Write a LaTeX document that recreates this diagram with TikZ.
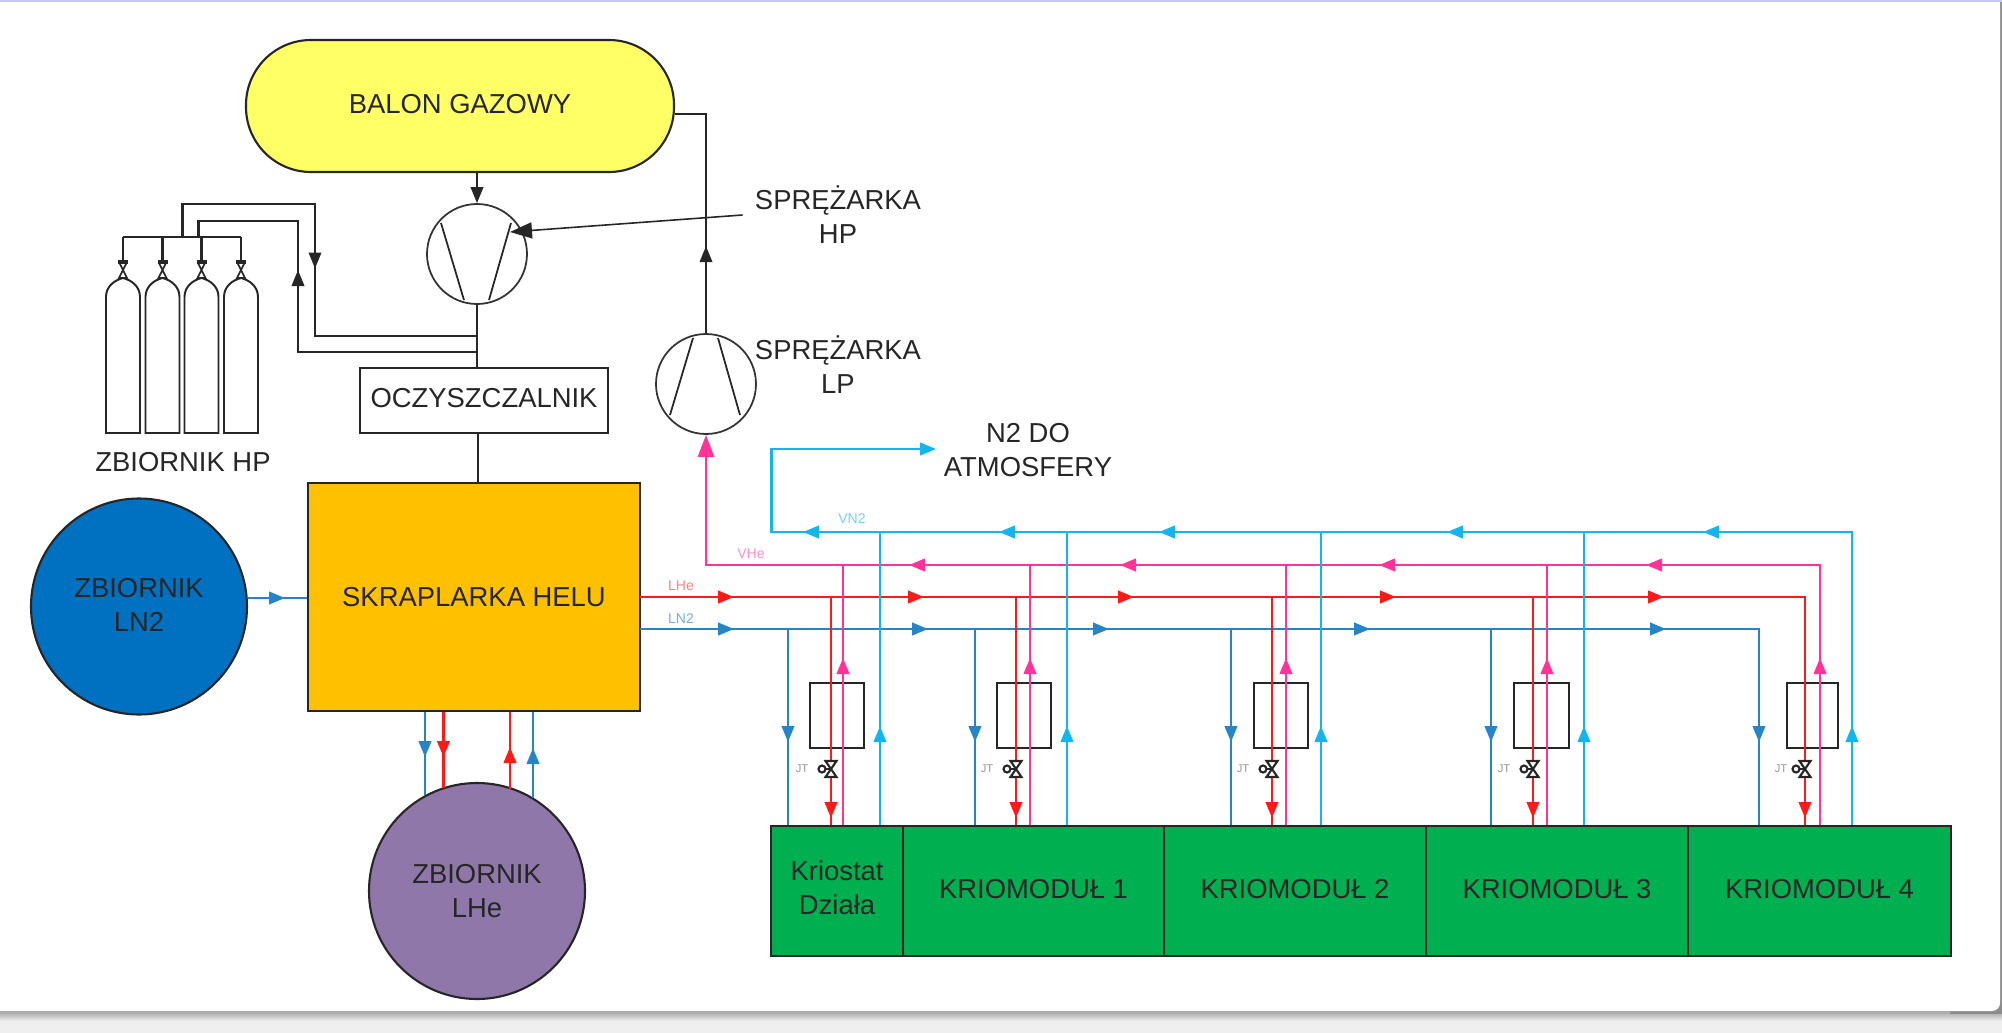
\documentclass[tikz,border=0pt]{standalone}
\usepackage{fontspec}
\setmainfont{Liberation Sans}
\usetikzlibrary{arrows.meta,calc,decorations.markings}
\definecolor{colYellow}{HTML}{FFFF66}
\definecolor{colOrange}{HTML}{FFC000}
\definecolor{colBlue}{HTML}{0070C0}
\definecolor{colPurple}{HTML}{8F77A9}
\definecolor{colGreen}{HTML}{00B050}
\definecolor{colPink}{HTML}{FF3399}
\definecolor{colCyan}{HTML}{12B5EE}
\definecolor{colRed}{HTML}{FF1A1A}
\definecolor{colPage}{HTML}{EFEFEF}
\definecolor{colLine}{HTML}{C8C8E8}
\tikzset{
  >={Triangle[length=1.6mm,width=1.25mm]},
  every node/.style={font=\fontsize{7.8}{9.65}\selectfont, text=black!85},
  unit/.style={draw=black!85, line width=0.6pt, align=center, inner sep=0pt},
  tank/.style={unit, circle, minimum size=2.16cm},
  compressor/.style={draw=black!80, circle, line width=0.5pt, minimum size=1.0cm, inner sep=0pt},
  module/.style={unit, fill=colGreen, minimum height=1.30cm, anchor=north west, text depth=0.05cm},
  exchanger/.style={draw=black!85, line width=0.6pt, minimum height=0.65cm, anchor=north west, inner sep=0pt},
  pipe/.style={draw=black!85, line width=0.6pt},
  ln2/.style={draw=colBlue!85!white, line width=0.7pt},
  lhe/.style={draw=colRed, line width=0.7pt},
  vhe/.style={draw=colPink, line width=0.7pt},
  vn2/.style={draw=colCyan, line width=0.7pt},
  flowmark/.style={postaction={decorate,decoration={markings,mark=at position #1 with {\arrow{>}}}}},
  bigtip/.style={-{Triangle[length=2.2mm,width=1.6mm]}},
  tinylabel/.style={font=\fontsize{4}{4}\selectfont},
  jtlabel/.style={font=\fontsize{3.2}{3.2}\selectfont, text=black!40},
}
\begin{document}
\begin{tikzpicture}[x=1cm,y=-1cm]
  \useasboundingbox (0,0) rectangle (20.02,10.33);
  % page behind the drawing
  \fill[colPage] (0,0) rectangle (20.02,10.33);
  \shade[top color=black!55, bottom color=colPage] (0,10.05) rectangle (20.02,10.21);
  \fill[black!45] (19.5,0) rectangle (20.02,10.14);
  \fill[white, rounded corners=0.08cm] (-1,-1) rectangle (20.00,10.11);
  \fill[colLine] (0,0) rectangle (20.02,0.015);

  % units
  \node[unit, fill=colYellow, rounded corners=0.65cm, minimum width=4.28cm, minimum height=1.32cm, text depth=0.05cm] (balon) at (4.60,1.06) {BALON GAZOWY};
  \node[compressor] (comphp) at (4.77,2.54) {};
  \node[compressor] (complp) at (7.06,3.84) {};
  \node[unit, minimum width=2.48cm, minimum height=0.65cm, text depth=0.05cm] (oczysz) at (4.84,4.005) {OCZYSZCZALNIK};
  \node[unit, fill=colOrange, minimum width=3.32cm, minimum height=2.28cm] (skrap) at (4.74,5.97) {SKRAPLARKA HELU};
  \node[tank, fill=colBlue, text depth=0.04cm] (tanklnn) at (1.39,6.065) {ZBIORNIK\\LN2};
  \node[tank, fill=colPurple] (tanklhe) at (4.77,8.91) {ZBIORNIK\\LHe};
  \node (zbhp) at (1.83,4.62) {ZBIORNIK HP};
  \node[align=center] (sphp) at (8.38,2.15) {SPRĘŻARKA\\HP};
  \node[align=center] (splp) at (8.38,3.645) {SPRĘŻARKA\\LP};
  \node[align=center] (atmos) at (10.28,4.50) {N2 DO\\ATMOSFERY};

  % modules
  \node[module, minimum width=1.32cm, text depth=0.07cm] (kriostat) at (7.70,8.25) {Kriostat\\Działa};
  \node[module, minimum width=2.61cm] (mod1) at (9.02,8.25) {KRIOMODUŁ 1};
  \node[module, minimum width=2.62cm] (mod2) at (11.63,8.25) {KRIOMODUŁ 2};
  \node[module, minimum width=2.62cm] (mod3) at (14.25,8.25) {KRIOMODUŁ 3};
  \node[module, minimum width=2.63cm] (mod4) at (16.87,8.25) {KRIOMODUŁ 4};

  % heat exchangers
  \node[exchanger, minimum width=0.54cm] (hxa) at (8.09,6.82) {};
  \node[exchanger, minimum width=0.54cm] (hxb) at (9.96,6.82) {};
  \node[exchanger, minimum width=0.54cm] (hxc) at (12.53,6.82) {};
  \node[exchanger, minimum width=0.55cm] (hxd) at (15.13,6.82) {};
  \node[exchanger, minimum width=0.51cm] (hxe) at (17.86,6.82) {};

  % compressor blades
  \foreach \c/\s in {comphp/1,complp/-1} {
    \draw[pipe, line width=0.5pt] ($(\c.center)+(-0.36,-0.31*\s)$) -- ($(\c.center)+(-0.13,0.46*\s)$);
    \draw[pipe, line width=0.5pt] ($(\c.center)+(0.34,-0.31*\s)$) -- ($(\c.center)+(0.12,0.46*\s)$);
  }

  % helium circuit
  \draw[pipe, ->] (balon.south -| comphp) -- (comphp.north);
  \coordinate (hpin) at ($(comphp.center)+(0.33,-0.22)$);
  \draw[pipe, line width=0.45pt, bigtip] (sphp.west) -- (hpin);
  \coordinate (balr) at (7.06,1.14);
  \draw[pipe, flowmark=0.87cm] (complp.north) -- (balr) -- (balon.east |- balr);
  \draw[pipe] (comphp.south) -- (comphp.south |- oczysz.north);
  \draw[pipe] (oczysz.south -| skrap.north) ++(0.04,0) -- ($(skrap.north)+(0.04,0)$);

  % bottles
  \coordinate (rail) at (1.23,2.37);
  \draw[pipe] (rail) -- (2.41,2.37);
  \foreach \x in {1.23,1.625,2.015,2.41} {
    \draw[pipe] (\x,2.37) -- (\x,2.62);
    \draw[pipe, line width=0.9pt] ($(\x,2.62)+(-0.05,0)$) -- ($(\x,2.62)+(0.05,0)$);
    \draw[pipe, line width=0.5pt] ($(\x,2.62)+(-0.04,0)$) -- ($(\x,2.78)+(0.04,0)$) -- ($(\x,2.78)+(-0.04,0)$) -- ($(\x,2.62)+(0.04,0)$);
    \draw[pipe, line width=0.55pt] ($(\x,4.33)+(-0.17,0)$) -- ($(\x,2.97)+(-0.17,0)$)
      .. controls ($(\x,2.86)+(-0.17,0)$) and ($(\x,2.80)+(-0.08,0)$) .. (\x,2.78)
      .. controls ($(\x,2.80)+(0.08,0)$) and ($(\x,2.86)+(0.17,0)$) .. ($(\x,2.97)+(0.17,0)$)
      -- ($(\x,4.33)+(0.17,0)$) -- cycle;
  }
  \coordinate (forka) at (4.76,3.36);
  \coordinate (forkb) at (4.76,3.52);
  \draw[pipe, flowmark=2.30cm] (1.825,2.37) -- (1.825,2.04) -- (3.15,2.04) -- (3.15,3.36) -- (forka);
  \draw[pipe, flowmark=2.60cm] (forkb) -- (2.98,3.52) -- (2.98,2.21) -- (1.985,2.21) -- (1.985,2.37);

  % feed to the cold box
  \coordinate (lnfeed) at (tanklnn.east |- 0,5.98);
  \draw[ln2, flowmark=0.37cm] (lnfeed) -- (skrap.west |- lnfeed);
  \draw[ln2, flowmark=0.45cm] (skrap.south -| 4.25,0) -- (4.25,7.95);
  \draw[lhe, flowmark=0.45cm] (skrap.south -| 4.435,0) -- (4.435,7.88);
  \draw[lhe, flowmark=0.42cm] (5.10,7.89) -- (skrap.south -| 5.10,0);
  \draw[ln2, flowmark=0.50cm] (5.33,7.98) -- (skrap.south -| 5.33,0);

  % trunk lines
  \coordinate (vnmain) at (7.715,5.32);
  \coordinate (vhmain) at (7.06,5.65);
  \coordinate (lhmain) at (6.40,5.97);
  \coordinate (lnmain) at (6.40,6.29);
  \draw[vn2, ->, flowmark=0.99cm, flowmark=4.42cm, flowmark=6.98cm, flowmark=9.86cm, flowmark=11.46cm, flowmark=13.42cm] (mod4.north -| 18.52,0) -- (18.52,5.32) -- (vnmain) -- (7.715,4.49) -- (9.36,4.49);
  \draw[vhe, flowmark=1.67cm, flowmark=4.34cm, flowmark=7.01cm, flowmark=9.60cm, flowmark=11.71cm] (mod4.north -| 18.20,0) -- (18.20,5.65) -- (vhmain) -- (7.06,4.60);
  \draw[vhe, bigtip] (7.06,4.60) -- (complp.south);
  \draw[lhe, flowmark=0.94cm, flowmark=2.84cm, flowmark=4.94cm, flowmark=7.56cm, flowmark=10.24cm, flowmark=13.86cm] (lhmain) -- (18.05,5.97) -- (mod4.north -| 18.05,0);
  \draw[ln2, flowmark=0.94cm, flowmark=2.88cm, flowmark=4.69cm, flowmark=7.30cm, flowmark=10.26cm, flowmark=12.32cm] (lnmain) -- (17.59,6.29) -- (mod4.north -| 17.59,0);

  % branches into the modules
  \foreach \x/\m in {7.88/kriostat,9.75/mod1,12.31/mod2,14.91/mod3} {
    \draw[ln2, flowmark=1.13cm] (\x,6.29) -- (\m.north -| \x,0);
  }
  \foreach \x/\m in {8.31/kriostat,10.16/mod1,12.72/mod2,15.33/mod3} {
    \draw[lhe, flowmark=2.21cm] (\x,5.97) -- (\m.north -| \x,0);
  }
  \foreach \x/\m in {8.43/kriostat,10.30/mod1,12.86/mod2,15.47/mod3} {
    \draw[vhe, flowmark=1.67cm] (\m.north -| \x,0) -- (\x,5.65);
  }
  \foreach \x/\m in {8.80/kriostat,10.67/mod1,13.21/mod2,15.84/mod3} {
    \draw[vn2, flowmark=0.99cm] (\m.north -| \x,0) -- (\x,5.32);
  }

  % expansion valves
  \foreach \x/\l in {8.31/-0.29,10.16/-0.29,12.72/-0.29,15.33/-0.29,18.05/-0.24} {
    \draw[pipe, line width=0.6pt, fill=white] ($(\x,7.61)+(-0.055,0)$) -- ($(\x,7.77)+(0.055,0)$) -- ($(\x,7.77)+(-0.055,0)$) -- ($(\x,7.61)+(0.055,0)$) -- cycle;
    \draw[pipe, line width=0.6pt] (\x,7.69) -- ($(\x,7.69)+(-0.06,0)$);
    \draw[pipe, line width=0.6pt] ($(\x,7.69)+(-0.09,0)$) circle (0.035);
    \node[jtlabel] at ($(\x,7.69)+(\l,0)$) {JT};
  }

  % line labels
  \node[tinylabel, text=colCyan!60] (lblvn) at (8.52,5.19) {VN2};
  \node[tinylabel, text=colPink!55] (lblvh) at (7.51,5.54) {VHe};
  \node[tinylabel, text=colRed!55] (lblhe) at (6.81,5.86) {LHe};
  \node[tinylabel, text=colBlue!55] (lblln) at (6.81,6.19) {LN2};
\end{tikzpicture}
\end{document}
